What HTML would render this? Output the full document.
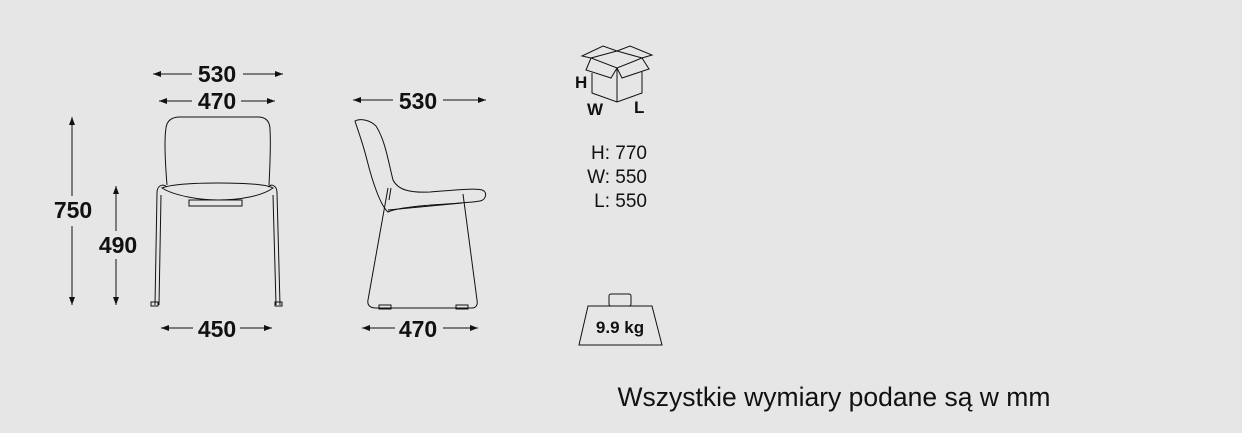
<!DOCTYPE html>
<html><head><meta charset="utf-8"><style>
html,body{margin:0;padding:0;background:#e6e6e6;}
svg{display:block}
text{font-family:"Liberation Sans","DejaVu Sans",sans-serif;fill:#111}
.b{font-weight:bold;font-size:23px}
.s{font-size:19px}
</style></head><body>
<svg width="1242" height="433" viewBox="0 0 1242 433" xmlns="http://www.w3.org/2000/svg">
<defs><marker id="a" markerWidth="8" markerHeight="6" refX="8" refY="3" orient="auto-start-reverse" markerUnits="userSpaceOnUse"><path d="M0,0L8,3L0,6z" fill="#111"/></marker></defs>
<g stroke="#111" stroke-width="1" fill="none">
<!-- dims -->
<line x1="153" y1="74" x2="192" y2="74" marker-start="url(#a)"/><line x1="243" y1="74" x2="283" y2="74" marker-end="url(#a)"/>
<line x1="159" y1="101" x2="192" y2="101" marker-start="url(#a)"/><line x1="241" y1="101" x2="275" y2="101" marker-end="url(#a)"/>
<line x1="72" y1="117" x2="72" y2="196" marker-start="url(#a)"/><line x1="72" y1="226" x2="72" y2="305" marker-end="url(#a)"/>
<line x1="116" y1="186" x2="116" y2="231" marker-start="url(#a)"/><line x1="116" y1="259" x2="116" y2="305" marker-end="url(#a)"/>
<line x1="161" y1="328" x2="193" y2="328" marker-start="url(#a)"/><line x1="240" y1="328" x2="272" y2="328" marker-end="url(#a)"/>
<line x1="353" y1="100" x2="393" y2="100" marker-start="url(#a)"/><line x1="443" y1="100" x2="486" y2="100" marker-end="url(#a)"/>
<line x1="362" y1="328" x2="395" y2="328" marker-start="url(#a)"/><line x1="443" y1="328" x2="478" y2="328" marker-end="url(#a)"/>
<!-- front chair -->
<path d="M167,185 C165,160 164,140 166,128 C167,120 172,117 180,117 L258,117 C266,117 270,121 270,130 C271,145 270,165 269,185"/>
<path d="M162,188 C175,196 200,200 218,200 C240,200 262,196 273,188 C266,184 240,183 218,183 C196,183 172,184 162,188 Z"/>
<path d="M155,305 L157,193 C157,186 162,183 167,187"/><path d="M159,305 L161,195"/>
<path d="M280,305 L277,193 C277,186 272,183 268,187"/><path d="M276,305 L273,195"/>
<rect x="151" y="302" width="7" height="4"/><rect x="275" y="302" width="7" height="4"/>
<rect x="189" y="200" width="53" height="6"/>
<!-- side chair -->
<path d="M355,121 C360,118 370,120 376,126 C385,140 388,160 393,180 C398,190 410,193 430,192 C455,190 475,188 482,190 C488,192 486,200 480,201 C470,203 440,204 420,206 C400,208 392,210 388,212 C380,205 372,180 367,160 C362,140 357,128 355,121 Z"/>
<path d="M388,188 L368,300 C367,305 370,308 376,308 L472,308 C476,308 478,305 477,300 L463,194"/>
<path d="M391,188 L389,200"/><path d="M388,210 L462,203"/>
<rect x="379" y="305" width="12" height="4"/><rect x="456" y="305" width="12" height="4"/>
<!-- box -->
<path d="M617,51 L591,58 L617,68 L642,58 Z"/>
<path d="M591,58 L582,56 L603,46 L617,51"/>
<path d="M617,51 L630,46 L652,55 L642,58"/>
<path d="M591,58 L586,70 L611,78 L617,68"/>
<path d="M617,68 L622,78 L649,69 L642,58"/>
<path d="M592,73 L592,93 L617,102 L642,93 L642,72 M617,68 L617,102"/>
<!-- weight -->
<rect x="609" y="294" width="22" height="12" rx="2"/>
<path d="M588,306 L652,306 L662,345 L579,345 Z"/>
</g>
<g text-anchor="middle">
<text x="217" y="82" class="b">530</text>
<text x="217" y="109" class="b">470</text>
<text x="73" y="218" class="b">750</text>
<text x="118" y="253" class="b">490</text>
<text x="217" y="337" class="b">450</text>
<text x="418" y="109" class="b">530</text>
<text x="418" y="337" class="b">470</text>
</g>
<text x="575" y="88" font-weight="bold" font-size="17">H</text>
<text x="587" y="115" font-weight="bold" font-size="17">W</text>
<text x="634" y="113" font-weight="bold" font-size="17">L</text>
<text x="647" y="159" class="s" text-anchor="end">H: 770</text>
<text x="647" y="183" class="s" text-anchor="end">W: 550</text>
<text x="647" y="207" class="s" text-anchor="end">L: 550</text>
<text x="620" y="333" font-weight="bold" font-size="17" text-anchor="middle">9.9 kg</text>
<text x="834" y="406" font-size="26.5" text-anchor="middle">Wszystkie wymiary podane są w mm</text>
</svg>
</body></html>
